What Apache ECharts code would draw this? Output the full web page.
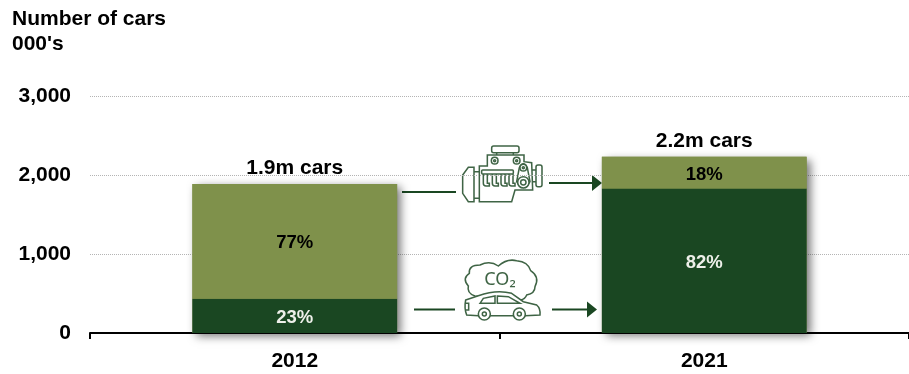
<!DOCTYPE html>
<html>
<head>
<meta charset="utf-8">
<style>html,body{margin:0;padding:0;background:#fff}#chart{width:909px;height:374px}</style>
<script src="https://cdn.jsdelivr.net/npm/echarts@6/dist/echarts.min.js"></script>
</head>
<body>
<div id="chart"></div>
<script>
// Cars by year, in thousands
const years = ['2012', '2021'];
const withoutEmissionData = [435, 1830];
const withEmissionData = [1451, 401];
const yTicks = [0, 1000, 2000, 3000];

const DARK = '#1a4722';
const OLIVE = '#7f914b';
const ICON = '#3f6445';
const FONT = '"Liberation Sans", Arial, sans-serif';

const totals = years.map((_, i) => withoutEmissionData[i] + withEmissionData[i]);
const share = (v, i) => Math.round(v / totals[i] * 100) + '%';

// Outline icons, drawn at 3x and scaled down inside their group
const outline = { stroke: ICON, fill: '#fff', lineWidth: 4.6 };
const bare = { stroke: ICON, fill: 'none', lineWidth: 4.6 };
let shapeCount = 0;
const path = (d, style = outline) => {
  const name = 'iconPath' + (shapeCount++);
  echarts.graphic.registerShape(name, echarts.graphic.extendPath(d, {}));
  return { type: name, style };
};
const ring = (cx, cy, r, style = outline) => ({ type: 'circle', shape: { cx, cy, r }, style });
const box = (x, y, width, height, r) => ({ type: 'rect', shape: { x, y, width, height, r }, style: outline });

const engineIcon = {
  type: 'group', x: 400, y: 130, scaleX: 1 / 3, scaleY: 1 / 3,
  children: [
    path('M290 66V78M340 66V78M222 125H240M222 205H240M396 120H410M396 155H410', bare),
    box(275, 48, 82, 20, 6),
    path('M222 112H205L188 135V190L205 215H222Z'),
    path('M262 75H372V95L395 98L398 180H345L335 215H238V108H262Z'),
    box(408, 105, 18, 65, 6),
    ring(284, 92, 10), ring(284, 92, 3),
    ring(350, 92, 10), ring(350, 92, 3),
    path('M250 132V160Q250 168 258 168H268V160H262V132M277 132V160Q277 168 285 168H295V160H289V132M303 132V160Q303 168 311 168H321V160H315V132M327 132V160Q327 168 335 168H345V160H339V132', bare),
    box(245, 120, 95, 12, 3),
    path('M358 113L350 155Q370 190 390 155L382 113Q370 90 358 113Z'),
    ring(370, 113, 10), ring(370, 113, 3),
    ring(370, 157, 17), ring(370, 157, 8)
  ]
};

const carIcon = {
  type: 'group', x: 400, y: 250, scaleX: 1 / 3, scaleY: 1 / 3,
  children: [
    path('M225 138Q200 130 205 108Q185 85 208 70Q205 45 240 45Q270 30 295 48Q320 25 350 32Q385 35 392 62Q420 80 405 110Q405 130 380 135Q375 148 362 150Z'),
    path('M197 150L235 137Q290 118 335 130L370 155L410 165Q422 175 420 195L375 197H340L335 197H275H235L200 195Q192 175 197 150Z'),
    path('M240 160L250 145L285 138V160ZM292 138L325 140L360 160H292Z'),
    path('M197 160H206V180H196', bare),
    ring(253, 192, 18), ring(253, 192, 6),
    ring(358, 192, 18), ring(358, 192, 6)
  ]
};

// Connector lines with optional arrow heads on the right end
const connector = (x1, x2, y, head) => {
  const parts = [{ type: 'line', shape: { x1, y1: y, x2: head ? x2 - 6 : x2, y2: y }, style: { stroke: DARK, lineWidth: 2 } }];
  if (head) {
    parts.push({
      type: 'polygon',
      shape: { points: [[x2 - 10, y - 8], [x2, y], [x2 - 10, y + 8]] },
      style: { fill: DARK }
    });
  }
  return parts;
};

const chart = echarts.init(document.getElementById('chart'), null, { renderer: 'canvas' });
chart.setOption({
  animation: false,
  backgroundColor: '#fff',
  textStyle: { fontFamily: FONT },
  grid: { left: 90, top: 96, width: 821, height: 237, containLabel: false },
  xAxis: {
    type: 'category',
    data: years,
    axisLine: { lineStyle: { color: '#000', width: 2 } },
    axisTick: { show: true, length: 6, lineStyle: { color: '#000', width: 2 } },
    axisLabel: { color: '#000', fontWeight: 'bold', fontSize: 21, fontFamily: FONT, margin: 18 }
  },
  yAxis: {
    type: 'value',
    min: 0,
    max: 3000,
    interval: 1000,
    axisLine: { show: false },
    axisTick: { show: false },
    axisLabel: {
      color: '#000', fontWeight: 'bold', fontSize: 21, fontFamily: FONT, margin: 19,
      formatter: v => yTicks.includes(v) ? v.toLocaleString('en-US') : ''
    },
    splitLine: { lineStyle: { color: '#b4b4b4', type: 'dotted', width: 1 } }
  },
  series: [
    {
      name: 'Total',
      type: 'bar',
      barWidth: '50%',
      barGap: '-100%',
      data: totals,
      z: 2,
      itemStyle: {
        color: OLIVE,
        shadowColor: 'rgba(0,0,0,0.55)', shadowBlur: 9, shadowOffsetX: 4, shadowOffsetY: 3
      },
      label: {
        show: true, position: 'top', distance: 5,
        color: '#000', fontWeight: 'bold', fontSize: 21, fontFamily: FONT,
        formatter: p => (p.value / 1000).toFixed(1) + 'm cars'
      }
    },
    {
      name: 'Low emission',
      type: 'bar',
      stack: 'cars',
      barWidth: '50%',
      barGap: '-100%',
      data: withoutEmissionData,
      z: 3,
      itemStyle: { color: DARK },
      label: {
        show: true, position: 'inside', offset: [0, 2],
        color: '#eef0ea', fontWeight: 'bold', fontSize: 18.5, fontFamily: FONT,
        formatter: p => share(p.value, p.dataIndex)
      }
    },
    {
      name: 'High emission',
      type: 'bar',
      stack: 'cars',
      barWidth: '50%',
      barGap: '-100%',
      data: withEmissionData,
      z: 3,
      itemStyle: { color: OLIVE },
      label: {
        show: true, position: 'inside', offset: [0, 2],
        color: '#000', fontWeight: 'bold', fontSize: 18.5, fontFamily: FONT,
        formatter: p => share(p.value, p.dataIndex)
      }
    }
  ],
  graphic: [
    {
      type: 'text', x: 12, y: 7, z: 10,
      style: {
        text: "Number of cars\n000's",
        fill: '#000', font: 'bold 21px ' + FONT, lineHeight: 25
      }
    },
    ...connector(402, 456, 192, false),
    ...connector(549, 602, 183, true),
    ...connector(414, 455, 309.5, false),
    ...connector(552, 597, 309.5, true),
    engineIcon,
    carIcon,
    {
      type: 'text', x: 500, y: 280, z: 10,
      style: {
        text: 'CO\u2082', fill: ICON, font: '18px "Noto Sans", sans-serif',
        align: 'center', verticalAlign: 'middle'
      }
    }
  ]
});
</script>
</body>
</html>
